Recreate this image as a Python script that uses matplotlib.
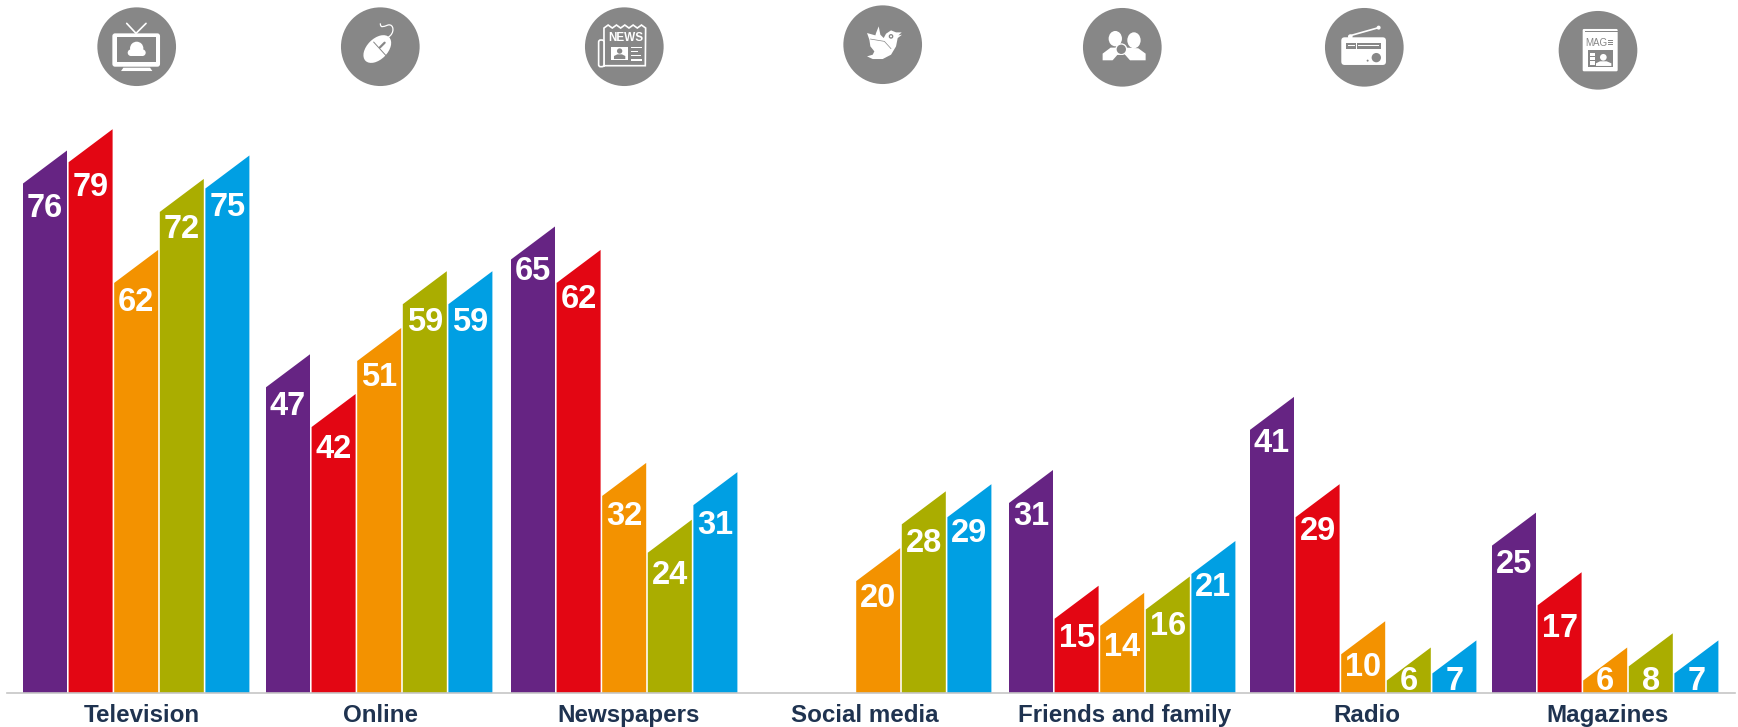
import numpy as np
import matplotlib
matplotlib.use('Agg')
import matplotlib.pyplot as plt
from matplotlib.patches import Circle, Ellipse, Polygon, Rectangle, FancyBboxPatch, PathPatch
from matplotlib.path import Path
from matplotlib.transforms import Affine2D

categories = ['Television', 'Online', 'Newspapers', 'Social media', 'Friends and family', 'Radio', 'Magazines']
# bar heights, labels show them rounded
television = [76, 79, 62, 72, 75.3]
online = [47.3, 41.7, 51, 59, 59]
newspapers = [65.3, 62, 32, 24, 30.7]
social_media = [None, None, 20, 28, 29]
friends_family = [31, 14.7, 13.7, 16, 21]
radio = [41.3, 29, 9.7, 6, 7]
magazines = [25, 16.6, 6, 8, 7]
groups = [television, online, newspapers, social_media, friends_family, radio, magazines]

colors = ['#662483', '#e30613', '#f39200', '#aaad00', '#009fe3']
grey = '#878787'
navy = '#1f3350'

# layout, in pixels of the 1738x727 picture
W, H = 1738, 727
base_y = 693.3
top_y = 100
left_x, right_x = 7, 1735
group_left = [23, 266, 511, 765, 1009, 1250, 1492]
label_x = [142, 380, 629, 865, 1125, 1367, 1607]
pitch = 45.6
bar_w = 44
unit_px = 7.1
slant = 33 / unit_px
drop = 18 / unit_px
floor = 1.42
# fine shift of each number label, pixels, positive moves it up
label_nudge = [
    [-3, -4, 2, 4, 2],
    [2, -1, 5, 3, 3],
    [9, 5, 1, -1, 1],
    [0, 0, 4, 2, 5],
    [8, 2, 0, 5, 8],
    [8, 7, 8, 2, 2],
    [3, -2, 2, 2, 2],
]

plt.rcParams['font.family'] = ['Liberation Sans', 'DejaVu Sans']
fig = plt.figure(figsize=(W / 100, H / 100), dpi=100)

ax = fig.add_axes([left_x / W, (H - base_y) / H, (right_x - left_x) / W, (base_y - top_y) / H])
ax.set_xlim(left_x, right_x)
y0 = -0.45
ax.set_ylim(y0, y0 + (base_y - top_y) / unit_px)
for s in ['top', 'left', 'right']:
    ax.spines[s].set_visible(False)
ax.spines['bottom'].set_color('#c6c6c6')
ax.spines['bottom'].set_linewidth(1.2)
ax.set_yticks([])
ax.set_xticks(label_x)
ax.set_xticklabels(categories, fontsize=17.4, fontweight='bold', color=navy)
ax.tick_params(axis='x', length=0, pad=7.5)

for g, vals in enumerate(groups):
    for i, v in enumerate(vals):
        if v is None:
            continue
        x = group_left[g] + i * pitch
        ax.fill([x, x, x + bar_w, x + bar_w], [y0, v - slant, v, y0], color=colors[i], lw=0)
        ax.text(x + bar_w / 2, max(v - slant - drop, floor) + label_nudge[g][i] / unit_px, str(round(v)),
                color='white', fontsize=23.5, fontweight='bold', ha='center', va='center_baseline')

# icon overlay in pixel coordinates
ov = fig.add_axes([0, 0, 1, 1])
ov.set_xlim(0, W)
ov.set_ylim(H, 0)
ov.axis('off')
ov.patch.set_alpha(0)


def icon_tr(cx, cy, zx=125, zy=125):
    return Affine2D().translate(-zx, -zy).scale(1 / 3) + Affine2D().translate(cx, cy) + ov.transData


def add(tr, patch):
    patch.set_transform(tr)
    patch.set_clip_on(False)
    ov.add_patch(patch)


def line(tr, xs, ys, color='white', lw=1.2):
    ov.plot(xs, ys, color=color, lw=lw, transform=tr, solid_capstyle='round', clip_on=False)


def rrect(x0, y0_, x1, y1, r, **kw):
    return FancyBboxPatch((x0 + r, y0_ + r), x1 - x0 - 2 * r, y1 - y0_ - 2 * r,
                          boxstyle='round,pad=%f,rounding_size=%f' % (r, r), lw=kw.pop('lw', 0), **kw)


def disc(cx, cy, zx=125, zy=125):
    tr = icon_tr(cx, cy, zx, zy)
    add(tr, Circle((zx, zy), 118, fc=grey, ec='none'))
    return tr


# television
tr = disc(136.7, 46.7)
add(tr, rrect(52, 85, 195, 185, 8, fc='white'))
add(tr, Rectangle((65, 97), 117, 75, fc=grey, ec='none'))
line(tr, [95, 123, 153], [55, 85, 55])
add(tr, Polygon([(85, 188), (165, 188), (172, 198), (78, 198)], fc='white', ec='none'))
add(tr, Circle((125, 130), 20, fc='white', ec='none'))
add(tr, Circle((108, 143), 10, fc='white', ec='none'))
add(tr, Circle((142, 143), 10, fc='white', ec='none'))
add(tr, Rectangle((108, 135), 34, 18, fc='white', ec='none'))

# mouse
tr = disc(380.3, 46.7, 127, 125)
add(tr, Ellipse((118, 132), 100, 62, angle=-45, fc='white', ec='none'))
line(tr, [107, 147], [111, 155], color=grey, lw=0.7)
line(tr, [126, 140], [127, 113], color=grey, lw=1.6)
cable = Path([(150, 97), (172, 85), (168, 55), (150, 60), (135, 65), (128, 70), (127, 55)],
             [Path.MOVETO, Path.CURVE4, Path.CURVE4, Path.CURVE4, Path.CURVE4, Path.CURVE4, Path.CURVE4])
add(tr, PathPatch(cable, fc='none', ec='white', lw=0.9))

# newspaper
tr = disc(624.3, 46.7, 127, 125)
zig_x = np.arange(66, 192, 12.5)
zig_y = [60 if k % 2 else 69 for k in range(len(zig_x))]
page = list(zip(zig_x, zig_y)) + [(190, 182), (62, 182), (66, 182)]
add(tr, Polygon(page, fc=grey, ec='white', lw=1.2))
add(tr, rrect(50, 105, 66, 185, 6, fc=grey, ec='white', lw=1.2))
ov.text(133, 98, 'NEWS', transform=tr, color='white', fontsize=8.5, fontweight='bold', ha='center', va='center')
add(tr, Rectangle((88, 125), 50, 40, fc='white', ec='none'))
add(tr, Circle((113, 138), 8, fc=grey, ec='none'))
add(tr, Polygon([(96, 162), (96, 153), (106, 148), (120, 148), (130, 153), (130, 162)], fc=grey, ec='none'))
for yy, xe in zip([127, 139, 152, 165], [180, 168, 178, 180]):
    add(tr, Rectangle((148, yy - 2), xe - 148, 4, fc='white', ec='none'))

# bird
tr = disc(882.7, 44.7)
bird = [(182, 88), (165, 88), (150, 82), (135, 92), (128, 105), (118, 95), (113, 70), (105, 90), (103, 97),
        (78, 90), (85, 110), (88, 130), (100, 145), (95, 155), (78, 160), (95, 168), (125, 168), (150, 155),
        (165, 130), (170, 105), (183, 95), (172, 97)]
add(tr, Polygon(bird, fc='white', ec='none'))
add(tr, Circle((150, 100), 7, fc=grey, ec='none'))
add(tr, Circle((150, 100), 3, fc='white', ec='none'))
line(tr, [88, 130, 150], [108, 115, 137], color=grey, lw=0.5)

# friends
tr = disc(1122.3, 47.3, 127, 127)
add(tr, Ellipse((106, 101), 40, 46, fc='white', ec='none'))
add(tr, Ellipse((162, 106), 40, 48, fc='white', ec='none'))
add(tr, Polygon([(68, 166), (68, 146), (92, 128), (120, 128), (135, 166)], fc='white', ec='none'))
add(tr, Polygon([(130, 166), (140, 128), (175, 130), (197, 146), (197, 166)], fc='white', ec='none'))
add(tr, Circle((124, 133), 18, fc='white', ec='none'))
add(tr, Circle((124, 133), 14, fc=grey, ec='none'))
add(tr, Polygon([(98, 172), (98, 166), (112, 150), (136, 150), (150, 166), (150, 172)], fc=grey, ec='none'))

# radio
tr = disc(1364.3, 47.3, 127, 127)
add(tr, rrect(58, 97, 192, 180, 10, fc='white'))
add(tr, Rectangle((72, 113), 106, 19, fc=grey, ec='none'))
add(tr, Rectangle((78, 120.5), 22, 3, fc='white', ec='none'))
add(tr, Rectangle((108, 120.5), 64, 3, fc='white', ec='none'))
add(tr, Rectangle((102, 113), 4, 19, fc='white', ec='none'))
add(tr, Circle((163, 158), 14, fc=grey, ec='none'))
add(tr, Circle((137, 167), 3, fc=grey, ec='none'))
line(tr, [85, 170], [92, 68], lw=1.2)
add(tr, Circle((170, 68), 6, fc='white', ec='none'))
add(tr, Circle((85, 95), 7, fc='white', ec='none'))

# magazine
tr = disc(1598, 50.3, 174, 127)
add(tr, rrect(128, 63, 233, 190, 4, fc='white'))
add(tr, Rectangle((136, 69), 97, 4, fc=grey, ec='none'))
ov.text(170, 104, 'MAG', transform=tr, color=grey, fontsize=7, ha='center', va='center')
for yy in [98, 104, 110]:
    add(tr, Rectangle((205, yy - 1), 15, 2.5, fc=grey, ec='none'))
add(tr, Rectangle((143, 127), 77, 51, fc=grey, ec='none'))
add(tr, Circle((190, 148), 10, fc='white', ec='none'))
add(tr, Polygon([(168, 174), (168, 166), (180, 160), (200, 160), (214, 166), (214, 174)], fc='white', ec='none'))
add(tr, Rectangle((150, 134), 14, 38, fc='white', ec='none'))
for yy in [143, 155]:
    add(tr, Rectangle((150, yy), 14, 3, fc=grey, ec='none'))

fig.savefig('out.png', dpi=100, facecolor='white')
